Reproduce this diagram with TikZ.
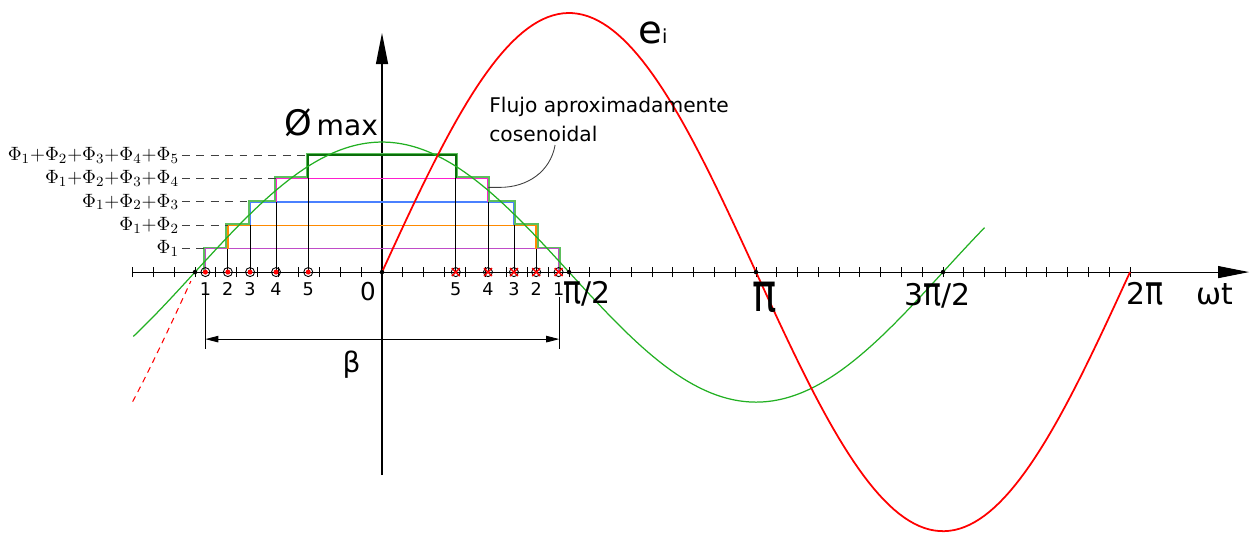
\documentclass[tikz,border=0pt]{standalone}
\usepackage{graphicx}
\usepackage{fontspec}
\setmainfont{DejaVu Sans}
\usetikzlibrary{arrows.meta,positioning,calc,shapes.misc}
\definecolor{cCurve}{HTML}{22B022}
\definecolor{cEmf}{HTML}{FF0000}
\definecolor{cLevA}{HTML}{C04CC8}
\definecolor{cLevB}{HTML}{FF8A00}
\definecolor{cLevC}{HTML}{4A80FF}
\definecolor{cLevD}{HTML}{FF1ECF}
\definecolor{cLevE}{HTML}{0A6E0A}
\definecolor{cStair}{HTML}{5CBF5C}
\definecolor{cGrey}{HTML}{404040}
\newcommand{\tallpi}{\scalebox{1}[1.33]{π}}
\tikzset{
  axisline/.style={line width=0.6pt, -{Triangle[length=6.2mm, width=2.4mm]}},
  tickmark/.style={line width=0.5pt},
  flux/.style={cCurve, line width=0.7pt},
  emf/.style={cEmf, line width=1pt},
  stairlvl/.style={draw=#1, line width=0.8pt},
  stairedge/.style={cStair, line width=1.1pt},
  guide/.style={draw=cGrey, dash pattern=on 4.5pt off 3.7pt, line width=0.5pt},
  dimline/.style={{Triangle[length=2.6mm,width=1.3mm]}-{Triangle[length=2.6mm,width=1.3mm]}, line width=0.5pt},
  ptring/.style={circle, draw, inner sep=0pt, minimum size=1.8mm, line width=0.5pt},
  xmark/.style={cross out, draw=cEmf, inner sep=0pt, minimum size=1.3mm, line width=0.8pt},
  num/.style={font=\fontsize{10}{10}\selectfont, inner sep=0pt},
  axlbl/.style={font=\fontsize{17}{18}\selectfont, inner sep=0pt},
  sumlbl/.style={font=\fontsize{11}{12}\selectfont, anchor=east, inner sep=1.5pt},
  leader/.style={draw=cGrey, line width=0.5pt},
}

\begin{document}
\begin{tikzpicture}[x=0.041556cm, y=0.02cm]
  \useasboundingbox (-183.85,-261) rectangle (422.07,272);
  % axes and ticks (one every 10 degrees)
  \draw[axisline] (-120,0) -- (417.3,0);
  \draw[axisline] (0,-203) -- (0,239);
  \foreach \t in {-120,-110,...,360} \draw[tickmark] (\t,-5) -- (\t,5);

  % staircase
  \foreach \a/\c [count=\k] in {85/cLevA,74.2/cLevB,63.5/cLevC,51/cLevD,35.5/cLevE} {
    \draw[thin] (-\a,0) -- (-\a,{(\k-1)*23.4});
    \draw[thin] (\a,0) -- (\a,{(\k-1)*23.4});
    \draw[stairlvl=\c] (-\a,{(\k-1)*23.4}) |- (\a,{\k*23.4}) -- (\a,{(\k-1)*23.4});
  }
  % outer edge, a hair outside the levels
  \draw[stairedge] (-85.7,0) |- (-74.9,24.6) |- (-64.2,48) |- (-51.7,71.4) |- (-36.2,94.8) |- (36.2,118.2)
    |- (51.7,94.8) |- (64.2,71.4) |- (74.9,48) |- (85.7,24.6) -- (85.7,0);
  \draw[stairlvl=cLevE, line width=1.4pt] (-35.5,93.6) |- (35.5,117) -- (35.5,93.6);

  % level labels
  \foreach \a/\txt [count=\k] in {85/{$\Phi_1$}, 74.2/{$\Phi_1{+}\Phi_2$}, 63.5/{$\Phi_1{+}\Phi_2{+}\Phi_3$},
      51/{$\Phi_1{+}\Phi_2{+}\Phi_3{+}\Phi_4$}, 35.5/{$\Phi_1{+}\Phi_2{+}\Phi_3{+}\Phi_4{+}\Phi_5$}} {
    \node[sumlbl] (sum\k) at (-96.3,{\k*23.4}) {\txt};
    \draw[guide] (sum\k.east) -- (-\a,{\k*23.4});
  }

  % step points on the axis
  \foreach \a [count=\k] in {85,74.2,63.5,51,35.5} {
    \node[ptring] (pl\k) at (-\a,0) {};
    \fill[cEmf] (pl\k) circle (0.05cm);
    \node[ptring] (pr\k) at (\a,0) {};
    \node[xmark] (xr\k) at (pr\k) {};
    \node[num, below=1mm of pl\k] (nl\k) {\k};
    \node[num, below=1mm of pr\k] (nr\k) {\k};
  }

  % flux and emf
  \draw[flux] plot[domain=-119.7:290, samples=150] (\x,{130*cos(\x)});
  \draw[emf] plot[domain=0:360, samples=150] (\x,{259*sin(\x)});
  \draw[emf, line width=0.6pt, dash pattern=on 3.4pt off 2.8pt] plot[domain=-120:-92, samples=20] (\x,{259*cos(\x)});
  \foreach \t in {-90,0,90,180,270} \fill (\t,0) circle (0.045cm);

  % beta
  \coordinate (betaL) at (-85,-67);
  \coordinate (betaR) at (85.3,-67);
  \draw[thin] (-85,-20) -- (-85,-77);
  \draw[thin] (85.3,-25) -- (85.3,-77);
  \draw[dimline] (betaL) -- (betaR);
  \node[font=\fontsize{16}{16}\selectfont, inner sep=0pt] (beta) at (-14.6,-93) {β};

  % axis labels
  \node[font=\fontsize{14}{14}\selectfont, inner sep=0pt] (zero) at (-6.8,-19) {0};
  \node[axlbl] (halfpi) at (98.7,-22) {\tallpi/2};
  \node[axlbl, font=\fontsize{23}{24}\selectfont] (pi) at (184.3,-25) {\tallpi};
  \node[axlbl] (threehalfpi) at (267.2,-24) {3\tallpi/2};
  \node[axlbl] (twopi) at (367.2,-22) {2\tallpi};
  \node[axlbl] (wt) at (400.9,-22) {ωt};

  \node[anchor=base, inner sep=0pt] (phimax) at (-24.5,137)
    {{\fontsize{20}{20}\selectfont Ø}{\fontsize{16}{16}\selectfont\,max}};
  \node[anchor=base west, inner sep=0pt] (ei) at (123.2,229)
    {{\fontsize{22}{22}\selectfont e}{\fontsize{11}{11}\selectfont i}};

  \node[anchor=north west, align=left, inner sep=0pt, font=\fontsize{11.5}{16.5}\selectfont] (flujo)
    at (51.5,175) {Flujo aproximadamente\\cosenoidal};
  \coordinate (lstart) at (83.3,127);
  \coordinate (lbend) at (56.8,84.7);
  \coordinate (ltip) at (51.2,84.7);
  \draw[leader] (lstart) to[out=-100, in=0] (lbend) -- (ltip);
\end{tikzpicture}
\end{document}
